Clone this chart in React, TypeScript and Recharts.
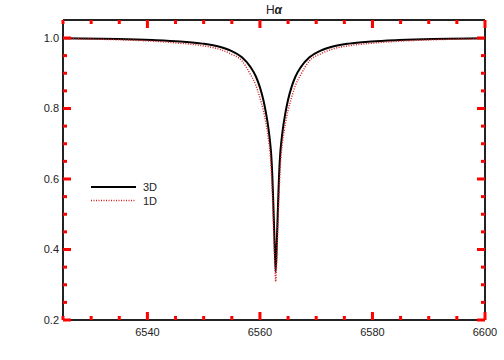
import { LineChart, Line, XAxis, YAxis, Legend } from "recharts";

// wavelength grid (Angstrom), line centre at 6562.8
const wavelengths = [
  6525, 6534.8, 6540.8, 6545.8, 6549.8, 6552.8, 6554.8, 6556.8, 6558.3,
  6559.3, 6560.0, 6560.6, 6561.1, 6561.5, 6561.8, 6562.0, 6562.2, 6562.4,
  6562.6, 6562.8, 6563.0, 6563.2, 6563.4, 6563.6, 6563.8, 6564.1, 6564.5,
  6565.0, 6565.6, 6566.3, 6567.3, 6568.8, 6570.8, 6572.8, 6575.8, 6579.8,
  6584.8, 6590.8, 6600,
];

// normalised flux
const flux3D = [
  0.999, 0.997, 0.994, 0.99, 0.984, 0.975, 0.964, 0.945, 0.918, 0.89, 0.86,
  0.825, 0.785, 0.745, 0.705, 0.67, 0.61, 0.52, 0.42, 0.337, 0.42, 0.52,
  0.61, 0.67, 0.705, 0.745, 0.785, 0.825, 0.86, 0.89, 0.918, 0.945, 0.964,
  0.975, 0.984, 0.99, 0.994, 0.997, 0.999,
];
const flux1D = [
  0.998, 0.995, 0.991, 0.985, 0.978, 0.968, 0.955, 0.935, 0.897, 0.865,
  0.83, 0.795, 0.755, 0.715, 0.675, 0.63, 0.56, 0.47, 0.38, 0.309, 0.38,
  0.47, 0.56, 0.63, 0.675, 0.715, 0.755, 0.795, 0.83, 0.865, 0.897, 0.935,
  0.955, 0.968, 0.978, 0.985, 0.991, 0.995, 0.998,
];

const seriesOrder = ["3D", "1D"];

const xTicks = [
  6525, 6530, 6535, 6540, 6545, 6550, 6555, 6560, 6565, 6570, 6575, 6580,
  6585, 6590, 6595, 6600,
];
const yTicks = [
  0.2, 0.25, 0.3, 0.35, 0.4, 0.45, 0.5, 0.55, 0.6, 0.65, 0.7, 0.75, 0.8,
  0.85, 0.9, 0.95, 1.0,
];

const data = wavelengths.map((w, i) => ({ w, d3: flux3D[i], d1: flux1D[i] }));

const axisColor = "red";
const font = "'Liberation Sans', Arial, sans-serif";

const isMajorX = (v: number) => v % 20 === 0;
const isMajorY = (v: number) => Math.round(v * 100) % 20 === 0;

const BottomTick = (props: any) => {
  const { x, y, payload } = props;
  const len = isMajorX(payload.value) ? 8 : 4;
  return (
    <g>
      <line x1={x} x2={x} y1={y} y2={y - len} stroke={axisColor} strokeWidth={3} />
      {isMajorX(payload.value) && (
        <text x={x} y={y + 16} textAnchor="middle" fontSize={11} fill="#222" fontFamily={font}>
          {payload.value}
        </text>
      )}
    </g>
  );
};

const TopTick = (props: any) => {
  const { x, y, payload } = props;
  const len = isMajorX(payload.value) ? 8 : 4;
  return <line x1={x} x2={x} y1={y} y2={y + len} stroke={axisColor} strokeWidth={3} />;
};

const LeftTick = (props: any) => {
  const { x, y, payload } = props;
  const len = isMajorY(payload.value) ? 8 : 4;
  return (
    <g>
      <line x1={x} x2={x + len} y1={y} y2={y} stroke={axisColor} strokeWidth={3} />
      {isMajorY(payload.value) && (
        <text x={x - 4} y={y + 4} textAnchor="end" fontSize={11} fill="#222" fontFamily={font}>
          {payload.value.toFixed(1)}
        </text>
      )}
    </g>
  );
};

const RightTick = (props: any) => {
  const { x, y, payload } = props;
  const len = isMajorY(payload.value) ? 8 : 4;
  return <line x1={x} x2={x - len} y1={y} y2={y} stroke={axisColor} strokeWidth={3} />;
};

const legendStyles: Record<string, { color: string; dash?: string; width: number }> = {
  "3D": { color: "#000", width: 2 },
  "1D": { color: "#d42020", dash: "1 1.5", width: 1.5 },
};

const LegendBox = (props: any) => {
  const items = [...(props.payload || [])].sort(
    (a: any, b: any) => seriesOrder.indexOf(a.value) - seriesOrder.indexOf(b.value)
  );
  return (
    <svg width={80} height={30}>
      {items.map((p: any, i: number) => {
        const s = legendStyles[p.value];
        const yy = 8 + i * 13.5;
        return (
          <g key={p.value}>
            <line x1={2} x2={47} y1={yy} y2={yy} stroke={s.color} strokeWidth={s.width} strokeDasharray={s.dash} />
            <text x={54} y={yy + 4} fontSize={11} fill="#222" fontFamily={font}>
              {p.value}
            </text>
          </g>
        );
      })}
    </svg>
  );
};

export default function App() {
  return (
    <div style={{ position: "absolute", left: 0, top: 0 }}>
      <div
        style={{
          position: "absolute",
          left: 224,
          top: 3,
          width: 100,
          textAlign: "center",
          fontFamily: font,
          fontSize: 12,
          lineHeight: "14px",
          color: "#222",
          zIndex: 2,
        }}
      >
        H<b><i>α</i></b>
      </div>
      <LineChart
        width={504}
        height={360}
        data={data}
        margin={{ top: 19, right: 18, bottom: 39, left: 62 }}
      >
        <XAxis
          dataKey="w"
          type="number"
          domain={[6525, 6600]}
          ticks={xTicks}
          interval={0}
          height={1}
          tickSize={0}
          tickMargin={0}
          tickLine={false}
          axisLine={{ stroke: "#222", strokeWidth: 2 }}
          tick={<BottomTick />}
          allowDataOverflow
        />
        <XAxis
          xAxisId="top"
          orientation="top"
          dataKey="w"
          type="number"
          domain={[6525, 6600]}
          ticks={xTicks}
          interval={0}
          height={1}
          tickSize={0}
          tickMargin={0}
          tickLine={false}
          axisLine={{ stroke: "#222", strokeWidth: 2 }}
          tick={<TopTick />}
          allowDataOverflow
        />
        <YAxis
          type="number"
          domain={[0.2, 1.051]}
          ticks={yTicks}
          interval={0}
          width={1}
          tickSize={0}
          tickMargin={0}
          tickLine={false}
          axisLine={{ stroke: "#222", strokeWidth: 2 }}
          tick={<LeftTick />}
          allowDataOverflow
        />
        <YAxis
          yAxisId="right"
          orientation="right"
          type="number"
          domain={[0.2, 1.051]}
          ticks={yTicks}
          interval={0}
          width={1}
          tickSize={0}
          tickMargin={0}
          tickLine={false}
          axisLine={{ stroke: "#222", strokeWidth: 2 }}
          tick={<RightTick />}
          allowDataOverflow
        />
        <Line
          type="monotone"
          dataKey="d3"
          name="3D"
          stroke="#000"
          strokeWidth={2}
          dot={false}
          isAnimationActive={false}
        />
        <Line
          type="monotone"
          dataKey="d1"
          name="1D"
          stroke="#d42020"
          strokeWidth={1.5}
          strokeDasharray="1 1.5"
          dot={false}
          isAnimationActive={false}
        />
        <Legend
          layout="horizontal"
          align="center"
          verticalAlign="middle"
          content={<LegendBox />}
          wrapperStyle={{ left: 89, top: 179, width: 80, height: 30 }}
        />
      </LineChart>
    </div>
  );
}
